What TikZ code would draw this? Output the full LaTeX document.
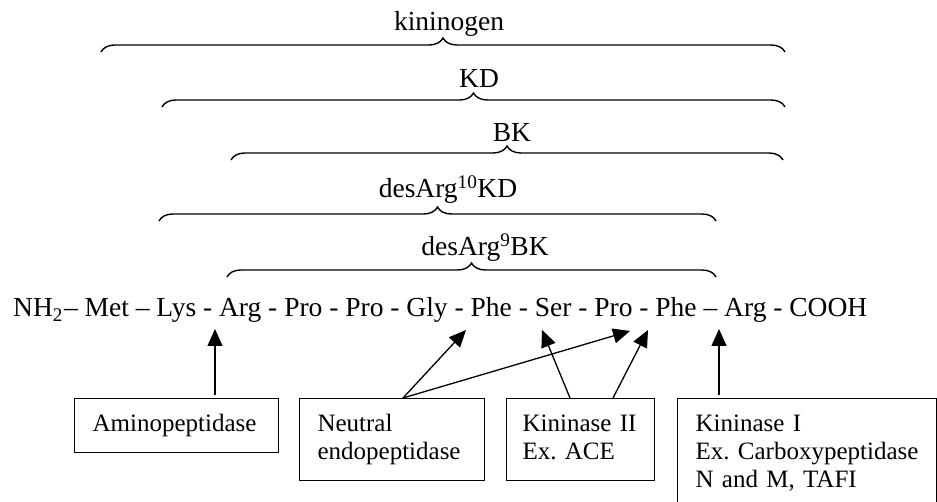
\documentclass[tikz,border=0pt]{standalone}
\usepackage{fontspec}
\setmainfont{Liberation Serif}
\usetikzlibrary{decorations.pathreplacing,arrows.meta,calc}
\newcommand\tstrut{\rule{0pt}{17pt}}
\newcommand\bstrut{\rule[-5.5pt]{0pt}{5.5pt}}
\begin{document}
\frenchspacing
\begin{tikzpicture}[x=1pt,y=1pt,
  lab/.style={font=\fontsize{27.5}{31}\selectfont, inner sep=0pt, anchor=base},
  brc/.style={decorate, decoration={brace, amplitude=14pt}, line width=1.4pt},
  enz/.style={draw, line width=1.1pt, anchor=north west, inner xsep=18pt, inner ysep=0pt,
    align=left, font=\fontsize{25}{28}\selectfont},
  arr/.style={-{Triangle[width=15pt,length=17pt]}, line width=1.3pt}]
\useasboundingbox (0,0) rectangle (937,502);
\clip (0,0) rectangle (937,502);
\fill[white] (0,0) rectangle (937,502);

% labels and braces
\node[lab] (kin)  at (449,471.5) {kininogen};
\node[lab] (kd)   at (479,414)   {KD};
\node[lab] (bk)   at (512,360)   {BK};
\node[lab] (da10) at (448,304)   {desArg\textsuperscript{10}KD};
\node[lab] (da9)  at (485,246)   {desArg\textsuperscript{9}BK};

\draw[brc] (101,450) -- (785,450);
\draw[brc] (162,395) -- (785,395);
\draw[brc] (231,342) -- (783,342);
\draw[brc] (159,281) -- (716,281);
\draw[brc] (227,225) -- (716,225);

% sequence
\node[font=\fontsize{27.5}{31}\selectfont, inner sep=0pt, anchor=base west] (seq) at (13,185)
  {NH\textsubscript{2}\kern1pt– Met – Lys - Arg - Pro - Pro - Gly - Phe - Ser - Pro - Phe – Arg - COOH};

% enzyme boxes
\node[enz, text width=168pt, minimum height=54pt] (amino) at (74,104) {\tstrut\mbox{Aminopeptidase}\bstrut};
\node[enz, text width=149pt, minimum height=82pt] (nep) at (299,104) {\tstrut\mbox{Neutral}\\\mbox{endopeptidase}\bstrut};
\node[enz, text width=116pt, minimum height=82pt, inner xsep=16pt] (kin2) at (506,104) {\tstrut\mbox{Kininase II}\\\mbox{Ex. ACE}\bstrut};
\node[enz, text width=223pt, minimum height=111pt] (kin1) at (677,104) {\tstrut\mbox{Kininase I}\\\mbox{Ex. Carboxypeptidase}\\\mbox{N and M, TAFI}\bstrut};

% arrow targets
\coordinate (tA)  at (215,173);
\coordinate (tN1) at (466,172);
\coordinate (tN2) at (630,171);
\coordinate (tK1) at (542,172);
\coordinate (tK2) at (648,172);
\coordinate (tKI) at (719,173);

\draw[arr] ([xshift=141pt,yshift=3pt]amino.north west) -- (tA);
\draw[arr] ([xshift=104pt]nep.north west) -- (tN1);
\draw[arr] ([xshift=104pt]nep.north west) -- (tN2);
\draw[arr] ([xshift=64pt]kin2.north west) -- (tK1);
\draw[arr] ([xshift=107pt]kin2.north west) -- (tK2);
\draw[arr] ([xshift=42pt,yshift=3pt]kin1.north west) -- (tKI);
\end{tikzpicture}
\end{document}
